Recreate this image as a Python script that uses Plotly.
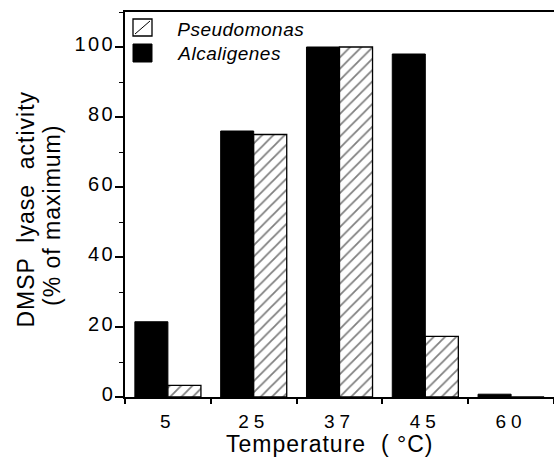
import plotly.graph_objects as go

categories = ["5", "25", "37", "45", "60"]
alcaligenes = [21.5, 76, 100, 98, 0.8]
pseudomonas = [3.3, 75, 100, 17.3, 0]
y_ticks = [0, 20, 40, 60, 80, 100]
legend_names = ["Pseudomonas", "Alcaligenes"]

FONT = "Liberation Sans, Arial, sans-serif"
W, H = 554, 469
ML, MR, MT, MB = 125, 0, 12, 72
PW, PH = W - ML - MR, H - MT - MB


def px(x):
    return (x - ML) / PW


def py(y):
    return (H - MB - y) / PH


fig = go.Figure()
fig.add_trace(go.Bar(
    x=categories, y=alcaligenes, name=legend_names[1],
    marker=dict(color="black", line=dict(color="black", width=1)),
))
fig.add_trace(go.Bar(
    x=categories, y=pseudomonas, name=legend_names[0],
    marker=dict(color="white", line=dict(color="black", width=1.3),
                pattern=dict(shape="/", fgcolor="black", bgcolor="white", size=8, solidity=0.22)),
))

# manual legend (boxes + labels)
shapes = [
    dict(type="rect", xref="paper", yref="paper", x0=px(133), x1=px(152), y0=py(36), y1=py(19),
         line=dict(color="black", width=1.3), fillcolor="white"),
    dict(type="line", xref="paper", yref="paper", x0=px(135), x1=px(150), y0=py(34), y1=py(21),
         line=dict(color="black", width=1)),
    dict(type="rect", xref="paper", yref="paper", x0=px(133), x1=px(152), y0=py(62), y1=py(44),
         line=dict(color="black", width=1), fillcolor="black"),
]
annotations = [
    dict(text=legend_names[0], x=px(178), y=py(29.5), xref="paper", yref="paper",
         xanchor="left", yanchor="middle", showarrow=False,
         font=dict(size=19, style="italic", family=FONT)),
    dict(text=legend_names[1], x=px(178), y=py(53.5), xref="paper", yref="paper",
         xanchor="left", yanchor="middle", showarrow=False,
         font=dict(size=19, style="italic", family=FONT)),
    dict(text="DMSP  lyase  activity", x=px(26), y=py(209), xref="paper", yref="paper",
         xanchor="center", yanchor="middle", textangle=-90, showarrow=False,
         font=dict(size=23, family=FONT)),
    dict(text="(% of maximum)", x=px(52), y=py(216), xref="paper", yref="paper",
         xanchor="center", yanchor="middle", textangle=-90, showarrow=False,
         font=dict(size=23, family=FONT)),
    dict(text="Temperature  ( °C)", x=px(329.5), y=py(444), xref="paper", yref="paper",
         xanchor="center", yanchor="middle", showarrow=False,
         font=dict(size=23, family=FONT)),
]

fig.update_layout(
    width=W, height=H,
    margin=dict(l=ML, r=MR, t=MT, b=MB),
    paper_bgcolor="white", plot_bgcolor="white",
    barmode="group", bargap=0.23, bargroupgap=0,
    font=dict(family=FONT, size=18, color="black"),
    showlegend=False,
    shapes=shapes,
    annotations=annotations,
    xaxis=dict(
        type="category", showline=True, linecolor="black", linewidth=1.5, mirror=True,
        ticks="outside", tickson="boundaries", ticklen=5, tickwidth=1.5, tickcolor="black",
        range=[-0.5, 4.5], ticklabelstandoff=6,
        tickfont=dict(size=19),
    ),
    yaxis=dict(
        range=[0, 110], tickvals=y_ticks, showline=True, linecolor="black", linewidth=1.5,
        ticks="outside", ticklen=8, tickwidth=1.5, tickcolor="black", showgrid=False,
        zeroline=False, ticklabelstandoff=-4, ticklabelshift=-3,
        minor=dict(dtick=10, ticks="outside", ticklen=4, tickwidth=1.2, tickcolor="black", showgrid=False),
        tickfont=dict(size=20),
    ),
)

post = """
var gd = document.getElementById('{plot_id}');
function sp(sel, v){ gd.querySelectorAll(sel).forEach(function(t){ t.style.letterSpacing = v; }); }
sp('.xtick text', '5px');
sp('.ytick text', '2.5px');
sp('.annotation-text', '1px');
gd.querySelectorAll('.annotation-text').forEach(function(t){
  if (t.textContent === 'Pseudomonas' || t.textContent === 'Alcaligenes') { t.style.letterSpacing = '0.5px'; }
});
"""

fig.write_html("out.html", post_script=post)
